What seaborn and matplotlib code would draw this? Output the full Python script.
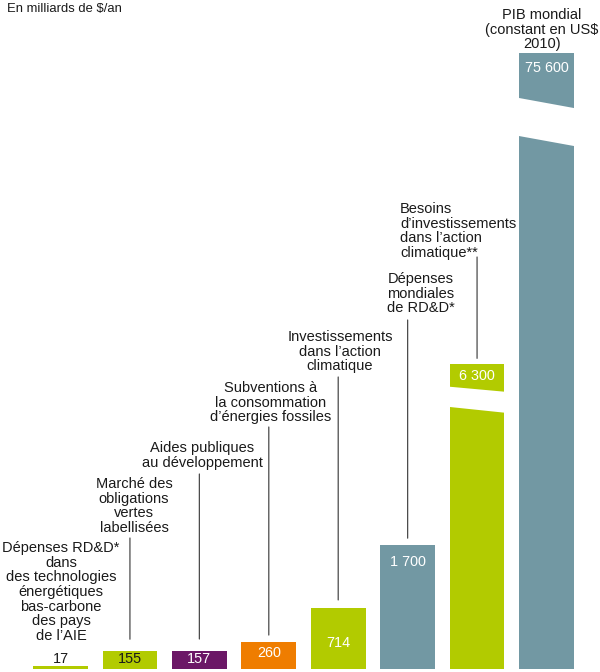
import numpy as np
import pandas as pd
import matplotlib
matplotlib.use("Agg")
import matplotlib.pyplot as plt
from matplotlib.patches import Polygon
import matplotlib.transforms as mtransforms
import seaborn as sns

# ---- data -------------------------------------------------------------
categories = [
    "Dépenses RD&D*\ndans\ndes technologies\nénergétiques\nbas-carbone\ndes pays\nde l’AIE",
    "Marché des\nobligations\nvertes\nlabellisées",
    "Aides publiques\nau développement",
    "Subventions à\nla consommation\nd’énergies fossiles",
    "Investissements\ndans l’action\nclimatique",
    "Dépenses\nmondiales\nde RD&D*",
    "Besoins\nd’investissements\ndans l’action\nclimatique**",
    "PIB mondial\n(constant en US$\n2010)",
]
values = [17, 155, 157, 260, 714, 1700, 6300, 75600]
colors = ["#b2cb00", "#b2cb00", "#6b1766", "#ef7d00",
          "#b2cb00", "#7298a3", "#b2cb00", "#7298a3"]
value_text_colors = ["#1a1a1a", "#1a1a1a", "white", "white",
                     "white", "white", "white", "white"]
unit_title = "En milliards de $/an"

# ---- styling / layout ---------------------------------------------------
W, H, DPI = 600, 672, 100
FONT = ["Liberation Sans", "DejaVu Sans"]
sns.set_theme(style="white")
plt.rcParams["font.family"] = FONT

# compressed value axis: power law up to the knee, logarithmic beyond it
KNEE, KNEE_PX, POW = 1700.0, 123.5, 0.82
LOG_PX, LOG_SCALE = 123.0, 1370.0


def fwd(v):
    v = np.clip(np.asarray(v, dtype=float), 0, None)
    low = KNEE_PX * (np.minimum(v, KNEE) / KNEE) ** POW
    high = LOG_PX * np.log1p(np.maximum(v - KNEE, 0) / LOG_SCALE)
    return low + high


def inv(y):
    y = np.clip(np.asarray(y, dtype=float), 0, None)
    low = KNEE * (np.minimum(y, KNEE_PX) / KNEE_PX) ** (1 / POW)
    high = LOG_SCALE * np.expm1(np.maximum(y - KNEE_PX, 0) / LOG_PX)
    return low + high


fig = plt.figure(figsize=(W / DPI, H / DPI), dpi=DPI)
ax = fig.add_axes([25.8 / W, 3.5 / H, 555.4 / W, 615.5 / H])

df = pd.DataFrame({"cat": categories, "val": values})
sns.barplot(data=df, x="cat", y="val", hue="cat", palette=colors,
            order=categories, hue_order=categories, legend=False,
            width=0.79, saturation=1, ax=ax, linewidth=0)
ax.set_yscale("function", functions=(fwd, inv))
ax.set_xlim(-0.5, len(values) - 0.5)
ax.set_ylim(0, max(values))
ax.set_axis_off()

# value labels: (mode, pixel offset from the bar top)
value_label_pos = [("above", 7), ("in", 8), ("in", 8), ("in", 11),
                   ("in", 35), ("in", 17), ("in", 12), ("in", 15)]
for i, (v, tc, (mode, off)) in enumerate(zip(values, value_text_colors,
                                               value_label_pos)):
    txt = f"{v:,}".replace(",", " ")
    dy = off if mode == "above" else -off
    ax.annotate(txt, xy=(i, min(v, max(values))), xytext=(0, dy),
                textcoords="offset pixels", ha="center", va="center",
                fontsize=10.4, color=tc, family=FONT, annotation_clip=False)

# breaks across the two out-of-scale bars (slanted white gaps)
blend = mtransforms.blended_transform_factory(ax.transData, ax.transAxes)
breaks = {6: (0.4578, 0.4497, 0.4249, 0.4156),
          7: (0.9269, 0.9106, 0.8651, 0.8489)}
for i, (hl, hr, ll, lr) in breaks.items():
    hw = 0.79 / 2
    ext = 0.03
    s_hi = (hr - hl) / (2 * hw)
    s_lo = (lr - ll) / (2 * hw)
    x0, x1 = i - hw - ext, i + hw + ext
    pts = [(x0, ll - s_lo * ext), (x1, lr + s_lo * ext),
           (x1, hr + s_hi * ext), (x0, hl - s_hi * ext)]
    ax.add_patch(Polygon(pts, closed=True, facecolor="white",
                         edgecolor="none", transform=blend, zorder=5))

# category descriptions: (x px, top px, horizontal alignment)
desc_pos = [(61, 541, "center"), (134, 477, "center"), (202, 441, "center"),
            (271, 381, "center"), (340, 330, "center"), (421, 272, "center"),
            (400, 202, "left"), (542, 8, "center")]
for text, (x, y, ha) in zip(categories, desc_pos):
    fig.text(x / W, 1 - y / H, text, ha=ha, va="top", multialignment=ha,
             fontsize=10.5, color="#1a1a1a", linespacing=1.06, family=FONT)

# leader lines: (bar index, line top px, gap above bar px)
leaders = [(1, 538, 12), (2, 474, 12), (3, 427, 7), (4, 377, 8),
           (5, 320, 7), (6, 257, 6)]
for i, top_px, gap in leaders:
    _, bar_top = ax.transData.transform((i, values[i]))
    bar_top_px = H - bar_top
    ax.annotate("", xy=(i, values[i]), xytext=(0, bar_top_px - top_px),
                textcoords="offset pixels", annotation_clip=False,
                arrowprops=dict(arrowstyle="-", color="#4a4a4a", lw=0.9,
                                shrinkA=0, shrinkB=gap * 72 / DPI))

fig.text(7 / W, 1 - 3 / H, unit_title, ha="left", va="top",
         fontsize=9.4, color="#1a1a1a", family=FONT)

fig.savefig("out.png", dpi=DPI)
